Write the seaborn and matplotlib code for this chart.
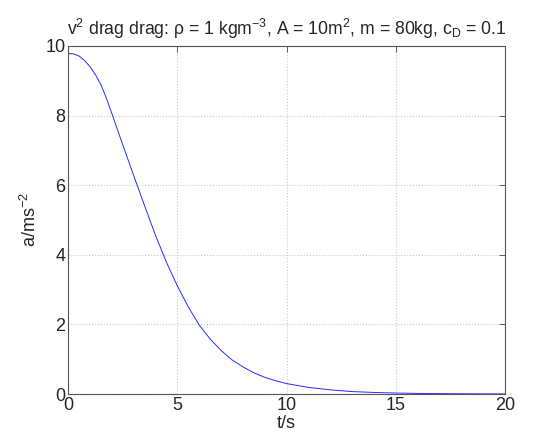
import matplotlib
matplotlib.use('Agg')
import matplotlib.pyplot as plt
import seaborn as sns
import pandas as pd

# values
t_s = [0, 0.25, 0.5, 0.75, 1.0, 1.25, 1.5, 1.75, 2.0, 2.5, 3.0, 3.5, 4.0,
       4.5, 5.0, 5.5, 6.0, 6.5, 7.0, 7.5, 8.0, 8.5, 9.0, 9.5, 10, 11, 12,
       13, 14, 15, 16, 17, 18, 19, 20]
accel = [9.79, 9.77, 9.71, 9.58, 9.40, 9.17, 8.88, 8.49, 8.05, 7.15, 6.27,
         5.40, 4.55, 3.78, 3.10, 2.50, 1.98, 1.58, 1.25, 0.98, 0.78, 0.61,
         0.48, 0.38, 0.30, 0.19, 0.12, 0.07, 0.045, 0.028, 0.017, 0.011,
         0.007, 0.004, 0.003]
x_ticks = [0, 5, 10, 15, 20]
y_ticks = [0, 2, 4, 6, 8, 10]

df = pd.DataFrame({'t': t_s, 'a': accel})

sns.set_theme(style='white')
plt.rcParams['font.family'] = ['Liberation Sans', 'DejaVu Sans']
plt.rcParams['mathtext.default'] = 'regular'

fig = plt.figure(figsize=(5.44, 4.36), dpi=100)
ax = fig.add_axes([0.1256, 0.0963, 0.8024, 0.7982])

sns.lineplot(data=df, x='t', y='a', ax=ax, color='#2a2aff', linewidth=0.7)

ax.set_xlim(0, 20)
ax.set_ylim(0, 10)
ax.set_xticks(x_ticks)
ax.set_yticks(y_ticks)
ax.grid(True, linestyle=':', color='#c8c8c8', linewidth=0.8)
ax.tick_params(direction='in', top=True, right=True, length=4, width=0.6,
               color='#444444', labelsize=13, pad=2)
for sp in ax.spines.values():
    sp.set_visible(True)
    sp.set_color('#555555')
    sp.set_linewidth(0.8)

ax.set_xlabel('t/s', fontsize=13, labelpad=1)
ax.set_ylabel('a/ms$^{-2}$', fontsize=13, labelpad=4)
ax.set_title(r'v$^2$ drag drag: ρ = 1 kgm$^{-3}$, A = 10m$^2$, m = 80kg, c$_D$ = 0.1',
             fontsize=12.7, pad=8)

fig.savefig('out.png', dpi=100, facecolor='white')
